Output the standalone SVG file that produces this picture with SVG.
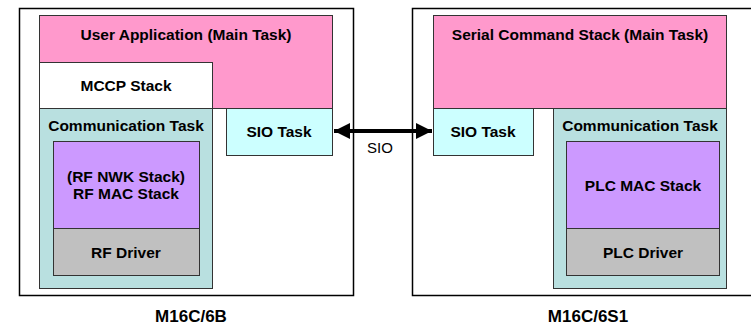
<svg xmlns="http://www.w3.org/2000/svg" width="751" height="326" viewBox="0 0 751 326">
<defs>
<style>
.outer{fill:#fff;stroke:#000;stroke-width:1.5}
.box{stroke:#333;stroke-width:1}
.pink{fill:#ff99cc}
.white{fill:#fff}
.comm{fill:#b9e0e0}
.sio{fill:#ccffff}
.mac{fill:#cc99ff}
.drv{fill:#c0c0c0}
.t{font-family:"Liberation Sans",Arial,sans-serif;font-weight:bold;font-size:15.5px;fill:#000;text-anchor:middle}
.lbl{font-family:"Liberation Sans",Arial,sans-serif;font-weight:bold;font-size:17px;fill:#000;text-anchor:middle}
.r{font-family:"Liberation Sans",Arial,sans-serif;font-size:15px;fill:#000;text-anchor:middle}
</style>
<marker id="ah" viewBox="0 0 10 10" refX="10" refY="5" markerWidth="4.5" markerHeight="4" orient="auto-start-reverse" markerUnits="strokeWidth">
<path d="M0,0 L10,5 L0,10 Z" fill="#000"/>
</marker>
</defs>
<rect width="751" height="326" fill="#fff"/>

<g id="m16c6b">
<rect class="outer" x="19.5" y="8.5" width="334" height="287"/>
<text class="lbl" x="191" y="322">M16C/6B</text>
</g>
<g id="m16c6s1">
<rect class="outer" x="412.5" y="8.5" width="350" height="287"/>
<text class="lbl" x="588" y="322">M16C/6S1</text>
</g>

<g id="user-app">
<rect class="box pink" x="39.5" y="15.5" width="293" height="93"/>
<text class="t" x="186" y="40">User Application (Main Task)</text>
</g>
<g id="mccp">
<rect class="box white" x="39.5" y="62.5" width="173" height="46"/>
<text class="t" x="126" y="91">MCCP Stack</text>
</g>
<g id="comm-left">
<rect class="box comm" x="39.5" y="108.5" width="173" height="180"/>
<text class="t" x="126" y="131">Communication Task</text>
</g>
<g id="rf-mac">
<rect class="box mac" x="53.5" y="141.5" width="146" height="87"/>
<text class="t" x="126" y="182">(RF NWK Stack)</text>
<text class="t" x="126" y="199">RF MAC Stack</text>
</g>
<g id="rf-driver">
<rect class="box drv" x="53.5" y="228.5" width="146" height="47"/>
<text class="t" x="126" y="258">RF Driver</text>
</g>
<g id="sio-left">
<rect class="box sio" x="226.5" y="108.5" width="106" height="47"/>
<text class="t" x="279" y="137">SIO Task</text>
</g>

<g id="serial-cmd">
<rect class="box pink" x="433.5" y="15.5" width="293" height="93"/>
<text class="t" x="580" y="40">Serial Command Stack (Main Task)</text>
</g>
<g id="sio-right">
<rect class="box sio" x="433.5" y="108.5" width="100" height="47"/>
<text class="t" x="483" y="137">SIO Task</text>
</g>
<g id="comm-right">
<rect class="box comm" x="553.5" y="108.5" width="173" height="180"/>
<text class="t" x="640" y="131">Communication Task</text>
</g>
<g id="plc-mac">
<rect class="box mac" x="566.5" y="141.5" width="153" height="87"/>
<text class="t" x="643" y="191">PLC MAC Stack</text>
</g>
<g id="plc-driver">
<rect class="box drv" x="566.5" y="228.5" width="153" height="47"/>
<text class="t" x="643" y="258">PLC Driver</text>
</g>

<g id="connectors">
<line x1="334" y1="131" x2="432" y2="131" stroke="#000" stroke-width="4" marker-start="url(#ah)" marker-end="url(#ah)"/>
<text class="r" x="380" y="153">SIO</text>
</g>
</svg>
